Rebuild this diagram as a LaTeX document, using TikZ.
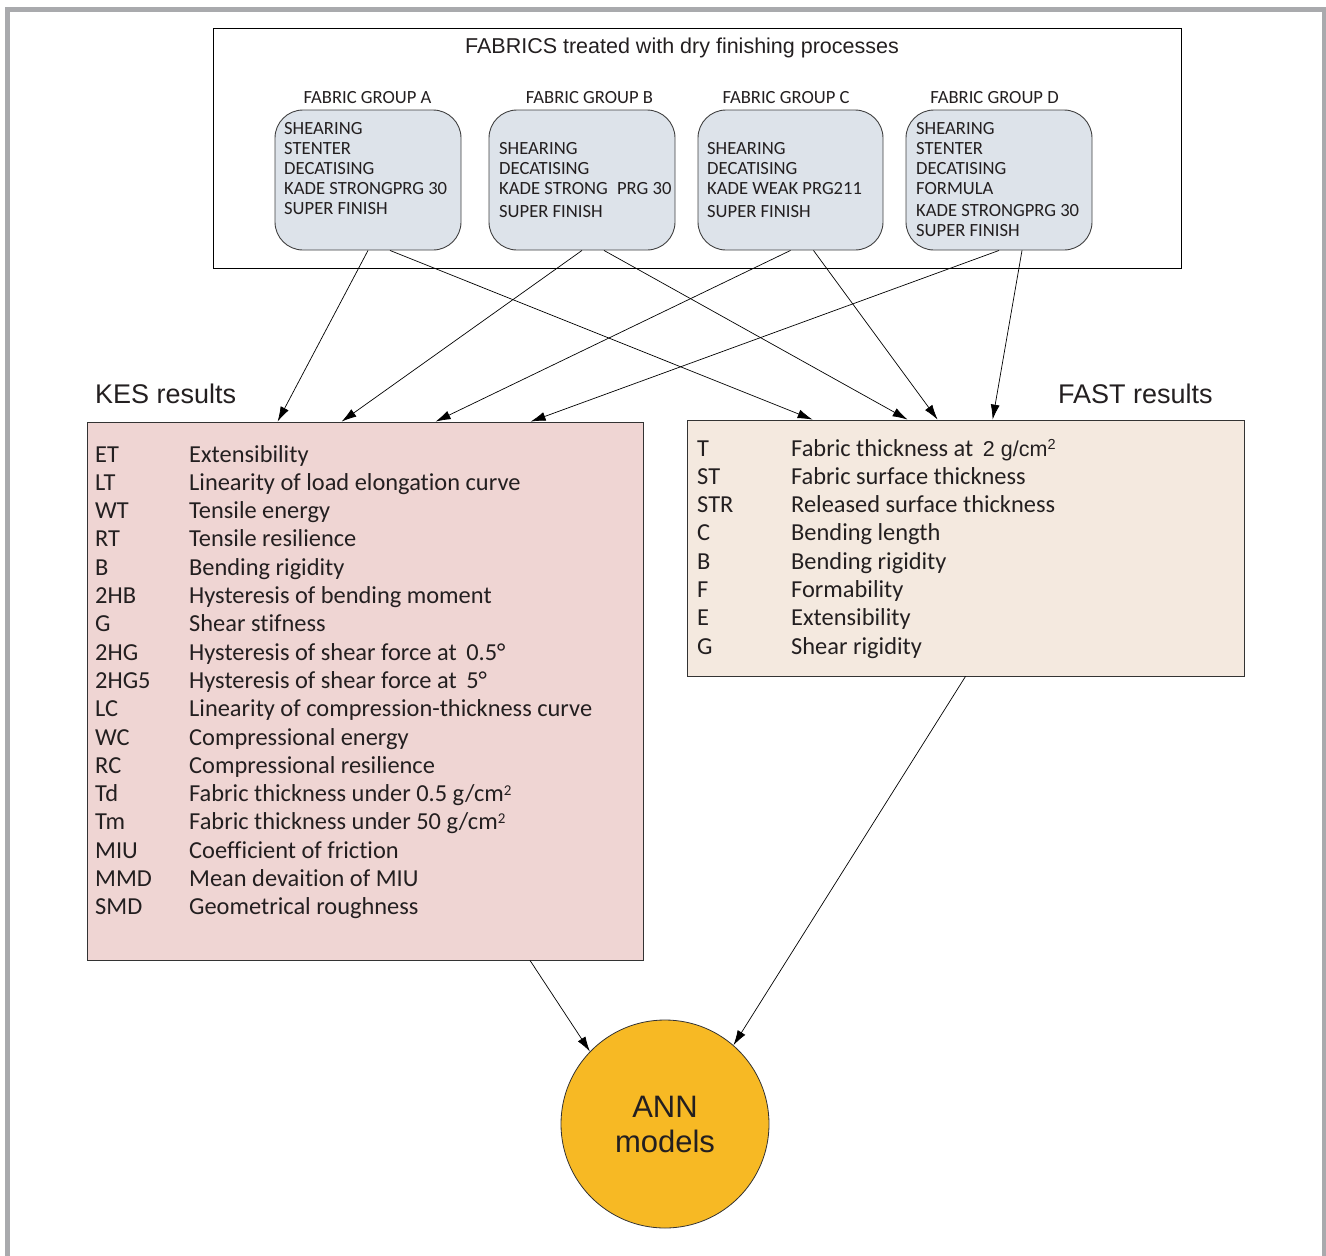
\documentclass[tikz,border=0pt]{standalone}
\usepackage{fontspec}
\setmainfont{Liberation Sans}
\newfontfamily\carlfont[Ligatures=NoCommon]{Carlito}
\usetikzlibrary{arrows.meta,calc}
\definecolor{grpfill}{HTML}{DDE3EA}
\definecolor{kesfill}{HTML}{EFD5D3}
\definecolor{fastfill}{HTML}{F4E9DF}
\definecolor{annfill}{HTML}{F7B924}
\definecolor{framegray}{HTML}{A9AAAD}
\definecolor{txt}{HTML}{231F20}
\newcommand{\carlsq}{\raisebox{6pt}{\fontsize{15}{15}\selectfont 2}}
\newcommand{\ariasq}{\raisebox{7pt}{\rmfamily\fontsize{14.5}{15}\selectfont 2}}
\begin{document}
\begin{tikzpicture}[x=1pt,y=-1pt,
  every node/.style={text=txt},
  grpbox/.style={draw=black!75,line width=0.9pt,fill=grpfill,rounded corners=28pt,
     minimum width=186pt,minimum height=140pt,inner sep=0pt},
  grptxt/.style={anchor=base west,inner sep=0pt,font=\carlfont\fontsize{18.6}{20}\selectfont},
  grplabel/.style={anchor=base,inner sep=0pt,font=\carlfont\fontsize{18.6}{20}\selectfont},
  tabtxt/.style={anchor=base west,inner sep=0pt,font=\carlfont\fontsize{24.4}{28.3}\selectfont},
  headtxt/.style={anchor=base west,inner sep=0pt,font=\fontsize{27}{30}\selectfont},
  conn/.style={draw=black,line width=0.7pt,-{Latex[length=15pt,width=9pt]}}]
\useasboundingbox (0,0) rectangle (1326,1256);
% frame
\draw[framegray,line width=5pt] (7,1258) -- (7,9) -- (1324,9) -- (1324,1258);
% outer box
\node[draw=black,line width=0.8pt,minimum width=968pt,minimum height=240pt,inner sep=0pt] (outer) at (697,148) {};
\node[anchor=base,inner sep=0pt,font=\fontsize{21.5}{24}\selectfont] (title) at (682,53.5) {FABRICS treated with dry finishing processes};
% groups
\node[grpbox] (gA) at (368,180) {};
\node[grpbox] (gB) at (582,180) {};
\node[grpbox,minimum width=185pt] (gC) at (790.5,180) {};
\node[grpbox] (gD) at (999,180) {};
\node[grplabel] (lA) at (367.5,103) {FABRIC GROUP A};
\node[grplabel] (lB) at (589.5,103) {FABRIC GROUP B};
\node[grplabel] (lC) at (786,103) {FABRIC GROUP C};
\node[grplabel] (lD) at (994.5,103) {FABRIC GROUP D};
\node[grptxt] (tA) at (284,134) {\begin{tabular}[t]{@{}l@{}}SHEARING\\STENTER\\DECATISING\\KADE STRONGPRG 30\\SUPER FINISH\end{tabular}};
\node[grptxt] (tB) at (499,154) {\begin{tabular}[t]{@{}l@{}}SHEARING\\DECATISING\\KADE STRONG\enspace PRG 30\\[3pt]SUPER FINISH\end{tabular}};
\node[grptxt] (tC) at (707,154) {\begin{tabular}[t]{@{}l@{}}SHEARING\\DECATISING\\KADE WEAK PRG211\\[3pt]SUPER FINISH\end{tabular}};
\node[grptxt] (tD) at (916,134) {\begin{tabular}[t]{@{}l@{}}SHEARING\\STENTER\\DECATISING\\FORMULA\\[2pt]KADE STRONGPRG 30\\SUPER FINISH\end{tabular}};
% headings
\node[headtxt] (kesh) at (95,403) {KES results};
\node[headtxt] (fasth) at (1058,403) {FAST results};
% KES box
\node[draw=black!80,line width=0.8pt,fill=kesfill,minimum width=556pt,minimum height=538pt,inner sep=0pt] (kes) at (365,691) {};
\node[tabtxt] (kest) at (95,462) {\begin{tabular}[t]{@{}p{94pt}@{}l@{}}
ET & Extensibility\\
LT & Linearity of load elongation curve\\
WT & Tensile energy\\
RT & Tensile resilience\\
B & Bending rigidity\\
2HB & Hysteresis of bending moment\\
G & Shear stifness\\
2HG & Hysteresis of shear force at\, 0.5°\\
2HG5 & Hysteresis of shear force at\, 5°\\
LC & Linearity of compression-thickness curve\\
WC & Compressional energy\\
RC & Compressional resilience\\
Td & Fabric thickness under 0.5 g/cm\carlsq\\
Tm & Fabric thickness under 50 g/cm\carlsq\\
MIU & Coefficient of friction\\
MMD & Mean devaition of MIU\\
SMD & Geometrical roughness
\end{tabular}};
% FAST box
\node[draw=black!80,line width=0.8pt,fill=fastfill,minimum width=557pt,minimum height=256pt,inner sep=0pt] (fast) at (965.5,548) {};
\node[tabtxt] (fastt) at (697,456) {\begin{tabular}[t]{@{}p{94pt}@{}l@{}}
T & Fabric thickness at\, {\rmfamily\fontsize{21.5}{24}\selectfont 2 g/cm}\ariasq\\
ST & Fabric surface thickness\\
STR & Released surface thickness\\
C & Bending length\\
B & Bending rigidity\\
F & Formability\\
E & Extensibility\\
G & Shear rigidity
\end{tabular}};
% ANN
\node[draw=black!80,line width=0.8pt,fill=annfill,circle,minimum size=208pt,inner sep=0pt,
  align=center,font=\fontsize{31}{35}\selectfont] (ann) at (665,1124) {ANN\\models};
% connectors
\draw[conn] (gA.south) -- ($(kes.north west)+(191,0)$);
\draw[conn] ($(gA.south)+(22,0)$) -- ($(fast.north west)+(126,0)$);
\draw[conn] (gB.south) -- ($(kes.north west)+(255,0)$);
\draw[conn] ($(gB.south)+(22,0)$) -- ($(fast.north west)+(221,0)$);
\draw[conn] (gC.south) -- ($(kes.north west)+(349,0)$);
\draw[conn] ($(gC.south)+(23,0)$) -- ($(fast.north west)+(251,0)$);
\draw[conn] (gD.south) -- ($(kes.north west)+(444,0)$);
\draw[conn] ($(gD.south)+(23,0)$) -- ($(fast.north west)+(306,0)$);
\draw[conn] ($(kes.south)+(165,0)$) -- (ann.136);
\draw[conn] (fast.south) -- (ann.49);
\end{tikzpicture}
\end{document}
